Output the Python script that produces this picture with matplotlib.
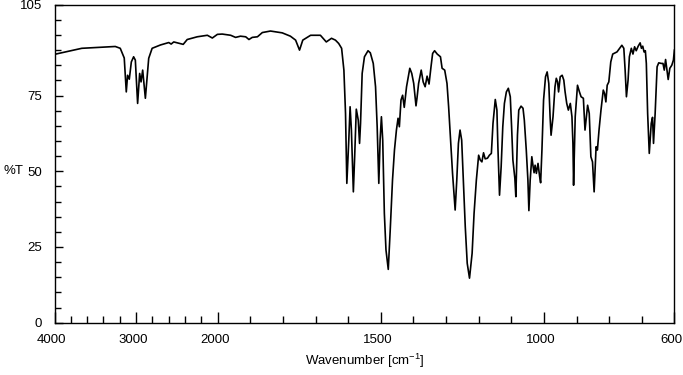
import numpy as np
import matplotlib
matplotlib.use('Agg')
import matplotlib.pyplot as plt
from matplotlib.transforms import ScaledTranslation

plt.rcParams['font.family'] = ['Liberation Sans', 'DejaVu Sans']
plt.rcParams['mathtext.default'] = 'regular'

# spectrum (wavenumber in cm-1, %T)
wavenumber = [4000, 3665, 3255, 3194, 3145, 3120, 3104, 3083, 3058, 3030, 3009, 2981,
              2956, 2939, 2919, 2886, 2845, 2803, 2701, 2599, 2570, 2538, 2422, 2373,
              2250, 2126, 2065, 2003,
              1986, 1960, 1945, 1930, 1914, 1904, 1894, 1878, 1863, 1838, 1802, 1777,
              1761, 1749, 1739, 1715, 1685, 1667, 1651, 1639, 1629, 1620,
              1613, 1608, 1604, 1598, 1594, 1590, 1584, 1580, 1575, 1569, 1565, 1562,
              1557, 1550, 1539, 1532, 1523, 1516, 1511, 1506, 1502, 1498, 1494, 1489,
              1484, 1477, 1471, 1464, 1458, 1452, 1447, 1443, 1438, 1433, 1428, 1421,
              1411, 1405, 1399, 1392,
              1389, 1384, 1376, 1370, 1364, 1358, 1352, 1346, 1341, 1335, 1327, 1317,
              1312, 1304, 1297, 1292, 1286, 1280, 1272, 1267, 1262, 1257, 1252, 1247,
              1241, 1235, 1228, 1220, 1214, 1207, 1200, 1195, 1190, 1185, 1180, 1173,
              1167, 1161, 1156, 1149, 1144, 1141, 1136, 1131, 1126, 1121,
              1115, 1109, 1103, 1099, 1095, 1089, 1086, 1081, 1077, 1070, 1064, 1060,
              1054, 1049, 1046, 1042, 1037, 1033, 1030, 1027, 1023, 1018, 1013, 1010,
              1006, 1001, 995, 990, 985, 981, 978, 972, 966, 962, 958, 955, 950, 944,
              939, 935, 930, 925, 919, 914, 911, 909, 904, 897, 891, 886, 879, 874,
              866, 861, 856, 851, 846, 840, 836, 831, 825, 818, 814, 810, 806, 801,
              795, 789, 776, 768, 761, 755, 751, 747, 742, 738, 732, 727, 722, 717,
              711, 705, 701, 697, 693, 689, 686, 682, 677, 671, 667, 664, 659, 653,
              648, 640, 635, 631, 627, 624, 619, 614, 608, 603, 600]
transmittance = [88.6, 90.6, 91.2, 90.6, 87.4, 76.2, 81.7, 80.4, 86.1, 87.8, 86.7, 72.4,
                 82.3, 79.5, 83.4, 74.1, 87.3, 90.6, 91.7, 92.5, 92.0, 92.7, 91.9, 93.5,
                 94.4, 94.9, 94.0, 95.2,
                 95.3, 94.9, 94.2, 94.6, 94.4, 93.5, 94.2, 94.4, 95.8, 96.3, 95.7, 94.6,
                 93.3, 90.0, 93.3, 94.9, 94.9, 92.7, 93.9, 93.3, 92.2, 90.6,
                 83.4, 69.1, 46.0, 60.3, 71.3, 63.6, 43.2, 54.8, 70.5, 66.9, 59.2, 65.8,
                 82.3, 87.8, 89.8, 89.1, 85.6, 77.9, 64.7, 46.0, 60.3, 68.0, 60.3, 36.1,
                 24.0, 17.6, 30.6, 47.1, 57.0, 63.6, 67.5, 64.7, 73.5, 75.1, 71.1, 77.9,
                 84.0, 82.3, 79.0, 71.6,
                 74.1, 79.0, 83.4, 79.5, 77.9, 81.4, 78.8, 84.5, 88.9, 89.8, 88.7, 87.8,
                 84.0, 83.4, 79.0, 71.3, 60.3, 49.3, 37.2, 47.1, 59.2, 63.6, 60.3, 47.1,
                 31.7, 19.6, 14.7, 22.9, 36.1, 47.1, 55.3, 53.7, 53.1, 56.1, 54.1, 54.3,
                 55.3, 55.9, 65.8, 73.7, 70.2, 58.1, 42.1, 51.5, 64.7, 72.4,
                 76.2, 77.4, 74.6, 64.7, 53.7, 47.7, 41.6, 62.0, 70.2, 71.5, 70.8, 66.9,
                 57.0, 47.1, 37.0, 47.1, 54.8, 51.5, 49.5, 52.0, 49.3, 52.6, 48.2, 46.2,
                 57.0, 73.5, 81.2, 82.8, 79.0, 68.0, 61.9, 68.0, 77.9, 80.7, 79.5, 76.2, 81.2, 81.7,
                 80.1, 76.2, 72.4, 70.2, 72.4, 68.0, 59.2, 45.4, 68.0, 78.4, 76.2, 74.6, 74.1, 63.6,
                 71.8, 69.1, 54.8, 53.1, 43.2, 58.1, 57.0, 63.6, 70.2, 76.8, 75.7, 72.9, 78.4, 79.5,
                 86.1, 88.7, 89.4, 90.6, 91.6, 90.6, 83.4, 74.6, 80.1, 87.8, 90.6, 88.7, 91.1, 89.8,
                 91.3, 92.4, 90.6, 91.3, 89.4, 89.8, 85.6, 69.1, 55.9, 65.8, 67.8, 59.2, 69.1, 84.5,
                 85.8, 85.6, 85.6, 83.4, 86.9, 84.5, 80.3, 84.0, 85.0, 86.7, 90.0]

xticks = [4000, 3000, 2000, 1500, 1000, 600]
xminor = [3800, 3600, 3400, 3200, 2800, 2600, 2400, 2200,
          1900, 1800, 1700, 1600, 1400, 1300, 1200, 1100, 900, 800, 700]
yticks = [0, 25, 50, 75, 105]


# 4000-2000 is drawn at a quarter of the scale of 2000-600
def fwd(w):
    w = np.asarray(w, dtype=float)
    return np.where(w > 2000, 2000 + (w - 2000) / 4.0, w)


def inv(u):
    u = np.asarray(u, dtype=float)
    return np.where(u > 2000, 2000 + (u - 2000) * 4.0, u)


fig = plt.figure(figsize=(6.83, 3.75), dpi=100)
ax = fig.add_axes([0.0798, 0.1395, 0.9076, 0.848])
ax.plot(wavenumber, transmittance, color='black', lw=1.2)

ax.set_xscale('function', functions=(fwd, inv))
ax.set_xlim(4000, 600)
ax.set_ylim(0, 105)
ax.set_xticks(xticks)
ax.set_xticklabels([str(t) for t in xticks])
ax.set_xticks(xminor, minor=True)
ax.set_yticks(yticks)
ax.set_yticks(np.arange(0, 105, 5), minor=True)

ax.tick_params(axis='x', which='major', direction='in', length=8, width=1, labelsize=9.5, pad=8)
ax.tick_params(axis='x', which='minor', direction='in', length=5, width=1)
ax.tick_params(axis='y', which='major', direction='in', length=6, width=1, labelsize=9.5, pad=9)
ax.tick_params(axis='y', which='minor', direction='in', length=4.2, width=1)
for s in ax.spines.values():
    s.set_linewidth(1)

# the x tick labels sit a little to the left of their ticks
shift = ScaledTranslation(-0.03, 0, fig.dpi_scale_trans)
for lab in ax.get_xticklabels():
    lab.set_transform(lab.get_transform() + shift)

ax.set_xlabel('Wavenumber [cm$^{-1}$]', fontsize=9.5, labelpad=4)
ax.set_ylabel('%T', fontsize=9.5, rotation=0, ha='center', va='center')
ax.yaxis.set_label_coords(-0.067, 0.476)

fig.savefig('out.png', dpi=100)
